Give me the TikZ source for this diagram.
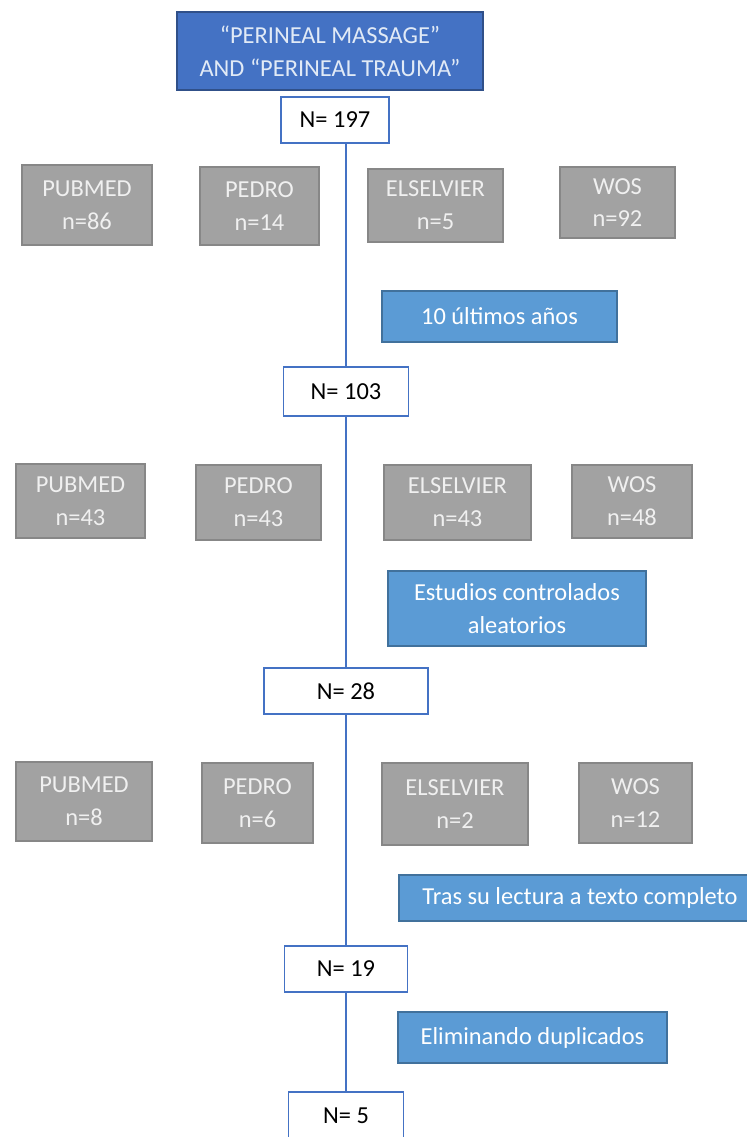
\documentclass[tikz,border=0pt]{standalone}
\usepackage{fontspec}
\setmainfont{Carlito}
\definecolor{headblue}{RGB}{68,114,196}
\definecolor{headtext}{RGB}{225,234,246}
\definecolor{dbgray}{RGB}{162,162,162}
\definecolor{dbedge}{RGB}{135,135,135}
\definecolor{dbtext}{RGB}{240,240,240}
\definecolor{filtblue}{RGB}{91,155,213}
\definecolor{filtedge}{RGB}{65,113,156}
\definecolor{linkblue}{RGB}{68,114,196}

\begin{document}
\begin{tikzpicture}[x=0.02cm,y=-0.02cm,line width=0.8pt,
                    font=\fontsize{13.9}{18.7}\selectfont]
  \tikzstyle{every node}=[align=center,inner sep=0pt]
  \tikzstyle{head}=[draw=headblue!70!black,fill=headblue,text=headtext]
  \tikzstyle{count}=[draw=linkblue,fill=white,text=black]
  \tikzstyle{db}=[draw=dbedge,fill=dbgray,text=dbtext]
  \tikzstyle{filter}=[draw=filtedge,fill=filtblue,text=white]

  \clip (0,0) rectangle (747,1137);

  \node[head,minimum width=6.12cm,minimum height=1.56cm] (title) at (330,51)
       {“PERINEAL MASSAGE”\\AND “PERINEAL TRAUMA”};
  \node[count,minimum width=2.16cm,minimum height=0.92cm] (n197) at (335,120) {N= 197};

  \node[db,minimum width=2.6cm,minimum height=1.6cm]   (pub1) at (87,205)    {PUBMED\\n=86};
  \node[db,minimum width=2.38cm,minimum height=1.56cm] (ped1) at (259.5,206) {PEDRO\\n=14};
  \node[db,minimum width=2.7cm,minimum height=1.46cm]  (els1) at (435.5,205.5) {ELSELVIER\\n=5};
  \node[db,minimum width=2.3cm,minimum height=1.42cm]  (wos1) at (617.5,202.5) {WOS\\n=92};

  \node[filter,minimum width=4.7cm,minimum height=1.02cm] (years) at (499.5,316.5) {10 últimos años};
  \node[count,minimum width=2.5cm,minimum height=0.98cm] (n103) at (346,391.5) {N= 103};

  \node[db,minimum width=2.58cm,minimum height=1.48cm] (pub2) at (80.5,501)   {PUBMED\\n=43};
  \node[db,minimum width=2.5cm,minimum height=1.5cm]   (ped2) at (258.5,502.5) {PEDRO\\n=43};
  \node[db,minimum width=2.94cm,minimum height=1.5cm]  (els2) at (457.5,502.5) {ELSELVIER\\n=43};
  \node[db,minimum width=2.4cm,minimum height=1.46cm]  (wos2) at (632,501.5)   {WOS\\n=48};

  \node[filter,minimum width=5.16cm,minimum height=1.5cm] (rct) at (517,608.5)
       {Estudios controlados\\aleatorios};
  \node[count,minimum width=3.28cm,minimum height=0.92cm] (n28) at (346,691) {N= 28};

  \node[db,minimum width=2.72cm,minimum height=1.58cm] (pub3) at (84,801.5)  {PUBMED\\n=8};
  \node[db,minimum width=2.22cm,minimum height=1.6cm]  (ped3) at (257.5,803) {PEDRO\\n=6};
  \node[db,minimum width=2.92cm,minimum height=1.64cm] (els3) at (455,804)   {ELSELVIER\\n=2};
  \node[db,minimum width=2.26cm,minimum height=1.6cm]  (wos3) at (635.5,803) {WOS\\n=12};

  \node[filter,minimum width=7.24cm,minimum height=0.92cm] (fulltext) at (580,898)
       {Tras su lectura a texto completo};
  \node[count,minimum width=2.46cm,minimum height=0.92cm] (n19) at (346,969) {N= 19};

  \node[filter,minimum width=5.38cm,minimum height=1.02cm] (dupes) at (532.5,1037.5)
       {Eliminando duplicados};
  \node[count,minimum width=2.3cm,minimum height=0.96cm] (n5) at (346,1116) {N= 5};

  \path[draw=linkblue,line width=1.1pt] (n103.north |- n197.south) edge (n103.north)
                       (n103) edge (n28)
                       (n28)  edge (n19)
                       (n19)  edge (n5);
\end{tikzpicture}
\end{document}
